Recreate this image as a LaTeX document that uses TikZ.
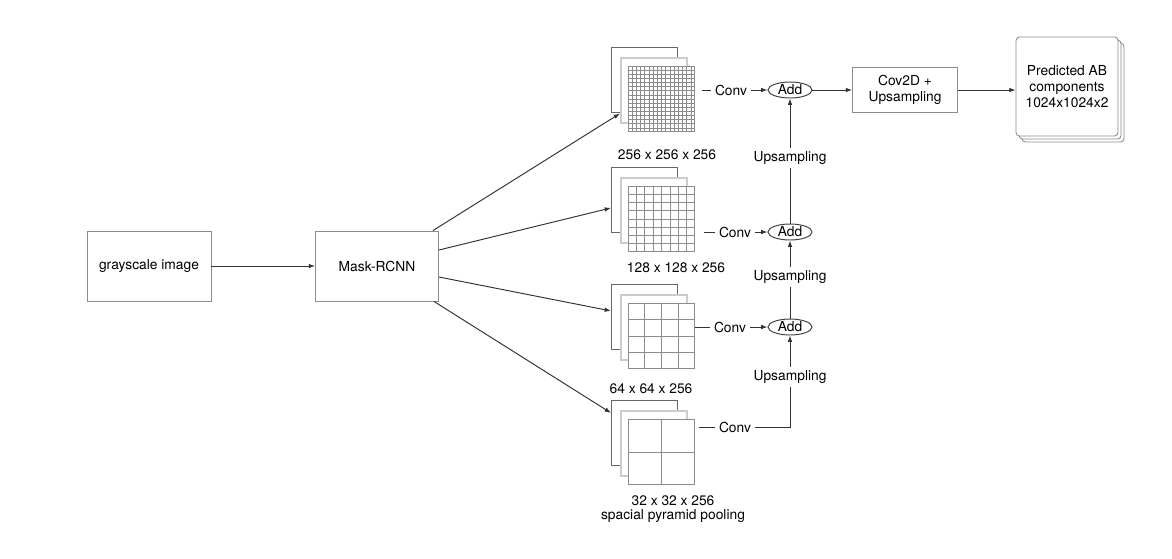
\documentclass[tikz,border=0pt]{standalone}
\usepackage{fontspec}
\setmainfont{TeX Gyre Heros}
\usetikzlibrary{arrows.meta,shapes.geometric,calc}

\begin{document}
\begin{tikzpicture}[x=0.02cm,y=-0.02cm,font=\fontsize{7.85}{9.2}\selectfont,
	>={Latex[length=3.6pt,width=2.6pt]},
	conn/.style={draw=black!80,line width=0.55pt},
	box/.style={draw=black!45,fill=white,line width=0.5pt,inner sep=0pt,align=center},
	predbox/.style={box,rounded corners=2pt,minimum width=2.04cm,minimum height=1.98cm},
	backsheet/.style={draw=black!60,fill=white,line width=0.5pt,inner sep=0pt,minimum width=1.32cm,minimum height=1.3cm},
	midsheet/.style={backsheet,draw=black!20,line width=1.1pt},
	frontsheet/.style={backsheet,draw=black!45,line width=0.6pt},
	gridline/.style={draw=black!45,line width=0.4pt},
	addnode/.style={ellipse,draw=black!75,line width=0.55pt,fill=white,inner sep=0pt,minimum width=0.88cm,minimum height=0.32cm},
	lbl/.style={inner sep=2pt}]

	\useasboundingbox (0,0) rectangle (1172,558);

	\node[box,minimum width=2.48cm,minimum height=1.4cm] (gray) at (149,266) {grayscale image};
	\node[box,minimum width=2.46cm,minimum height=1.4cm] (mask) at (377,266) {Mask-RCNN};
	\draw[conn,->] (gray) -- (mask);

	% feature maps
	\foreach \i/\y/\n in {1/47/16,2/167/8,3/284/4,4/400/2}
	{
		\node[backsheet,anchor=north west] (sa\i) at (611,\y) {};
		\node[midsheet,anchor=north west] (sb\i) at (620,\y+10) {};
		\node[frontsheet,anchor=north west] (sc\i) at (628,\y+19) {};
		\pgfmathtruncatemacro\m{\n-1}
		\foreach \k in {1,...,\m}
		{
			\draw[gridline] ($(sc\i.north west)!\k/\n!(sc\i.north east)$) -- ($(sc\i.south west)!\k/\n!(sc\i.south east)$);
			\draw[gridline] ($(sc\i.north west)!\k/\n!(sc\i.south west)$) -- ($(sc\i.north east)!\k/\n!(sc\i.south east)$);
		}
	}

	\draw[conn,->] ($(mask.north east)+(-6,0)$) -- ($(sb1.west)+(0,23)$);
	\draw[conn,->] ($(mask.east)+(0,-16)$) -- ($(sa2.west)+(0,8)$);
	\draw[conn,->] ($(mask.east)+(0,11)$) -- ($(sa3.west)+(0,-6)$);
	\draw[conn,->] ($(mask.south east)+(-5,0)$) -- ($(sa4.west)+(0,-20)$);

	\node (t1) at (667,155) {256 x 256 x 256};
	\node (t2) at (676,268) {128 x 128 x 256};
	\node (t3) at (651,389) {64 x 64 x 256};
	\node[align=center,font=\fontsize{7.85}{8}\selectfont] (t4) at (673,509) {32 x 32 x 256\\spacial pyramid pooling};

	% conv / add / upsampling
	\node[addnode] (add1) at (790,90) {Add};
	\node[addnode] (add2) at (790,232) {Add};
	\node[addnode] (add3) at (790,327) {Add};
	\node[lbl] (conv1) at (731,90) {Conv};
	\node[lbl] (conv2) at (735,232) {Conv};
	\node[lbl] (conv3) at (730,327) {Conv};
	\node[lbl] (conv4) at (735,427) {Conv};
	\node[lbl] (up1) at (790,158) {Upsampling};
	\node[lbl] (up2) at (790,277) {Upsampling};
	\node[lbl] (up3) at (790,377) {Upsampling};

	\coordinate (d1) at (702,90);
	\coordinate (d2) at (704,232);
	\coordinate (d3) at (sc3.east |- conv3);
	\coordinate (d4) at (699,427);

	\foreach \i in {1,2,3}
	{
		\draw[conn] (d\i) -- (conv\i);
		\draw[conn,->] (conv\i) -- (add\i);
	}
	\draw[conn] (d4) -- (conv4);
	\draw[conn] (conv4) -| (up3);
	\draw[conn,->] (up3) -- (add3);
	\draw[conn] (add3) -- (up2);
	\draw[conn,->] (up2) -- (add2);
	\draw[conn] (add2) -- (up1);
	\draw[conn,->] (up1) -- (add1);

	% output
	\node[box,minimum width=2.1cm,minimum height=0.9cm] (cov) at (905,90) {Cov2D +\\Upsampling};
	\draw[conn,->] (add1) -- (cov);

	\node[predbox] (pc) at (1073,92.5) {};
	\node[predbox] (pb) at (1070,89.5) {};
	\node[predbox] (pa) at (1067,86.5) {Predicted AB\\components\\1024x1024x2};
	\draw[conn,->] (cov) -- (cov -| pa.west);

\end{tikzpicture}
\end{document}
